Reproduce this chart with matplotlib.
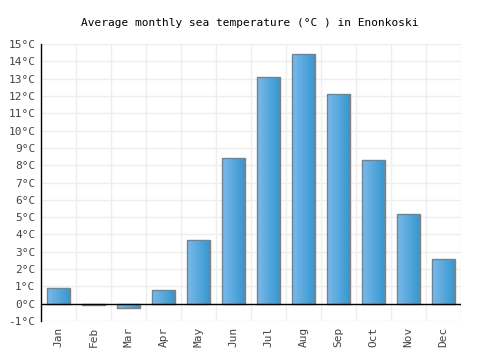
import numpy as np
import matplotlib
matplotlib.use('Agg')
import matplotlib.pyplot as plt
from matplotlib.colors import LinearSegmentedColormap

# 데이터
months = ['Jan', 'Feb', 'Mar', 'Apr', 'May', 'Jun', 'Jul', 'Aug', 'Sep', 'Oct', 'Nov', 'Dec']
temps = [0.9, -0.1, -0.25, 0.8, 3.7, 8.4, 13.1, 14.4, 12.1, 8.3, 5.2, 2.6]
yticks = list(range(-1, 16))
ytick_labels = [f'{t}°C' for t in yticks]

plt.rcParams['font.family'] = ['DejaVu Sans Mono']

fig = plt.figure(figsize=(5, 3.5), dpi=100)
ax = fig.add_axes([0.082, 0.083, 0.84, 0.791])

x = np.arange(len(months))
bars = ax.bar(x, temps, width=0.65, color='none', edgecolor='#808080', linewidth=1, zorder=3)

# 막대 그라데이션 (왼쪽 밝은 파랑 -> 오른쪽 진한 파랑)
cmap = LinearSegmentedColormap.from_list('bar', ['#7bb9ea', '#3797d0'])
grad = np.linspace(0, 1, 64).reshape(1, -1)
for b in bars:
    x0, y0 = b.get_x(), b.get_y()
    w, h = b.get_width(), b.get_height()
    im = ax.imshow(grad, cmap=cmap, aspect='auto', zorder=2,
                   extent=[x0, x0 + w, min(y0, y0 + h), max(y0, y0 + h)])
    im.set_clip_path(b)

ax.set_xlim(-0.5, 11.5)
ax.set_ylim(-1, 15)
ax.set_yticks(yticks)
ax.set_yticklabels(ytick_labels, fontsize=8, color='#444444')
ax.set_xticks(x)
ax.set_xticklabels(months, rotation=90, fontsize=8, color='#444444')
ax.set_xticks(np.arange(-0.5, 12, 1), minor=True)
ax.tick_params(which='both', length=0, pad=4)

ax.grid(True, which='minor', axis='x', color='#eeeeee', linewidth=1, zorder=0)
ax.grid(True, which='major', axis='y', color='#eeeeee', linewidth=1, zorder=0)
ax.axhline(0, color='black', linewidth=1, zorder=4)

for s in ['top', 'right', 'bottom']:
    ax.spines[s].set_visible(False)
ax.spines['left'].set_color('black')
ax.spines['left'].set_linewidth(1)

fig.suptitle('Average monthly sea temperature (°C ) in Enonkoski', fontsize=8, y=0.95)

fig.savefig('out.png', dpi=100)
